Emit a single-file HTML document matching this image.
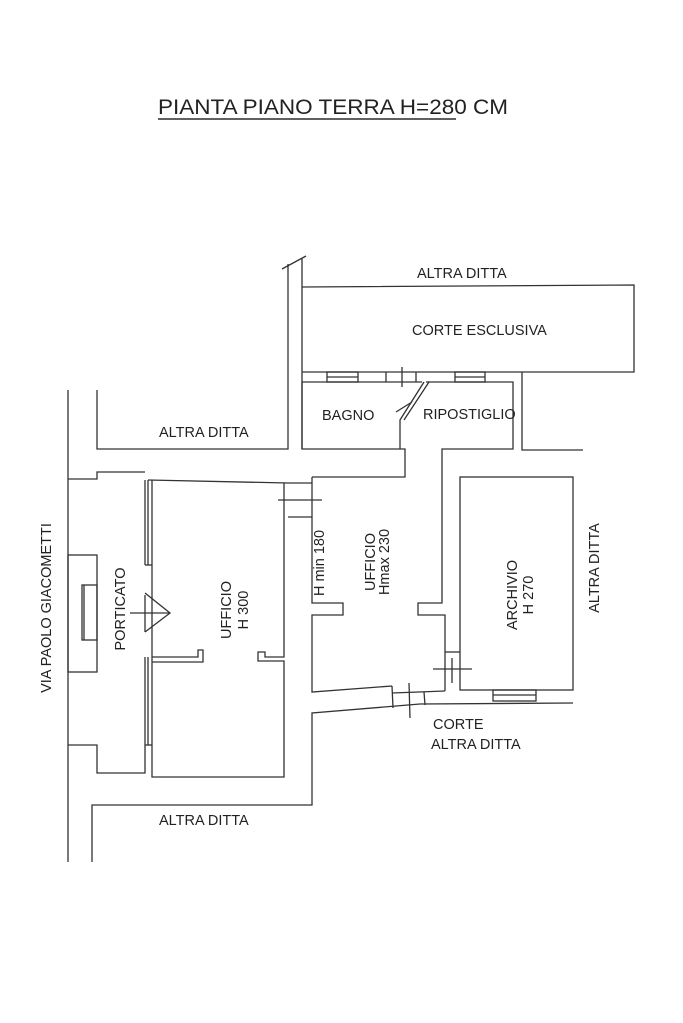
<!DOCTYPE html>
<html><head><meta charset="utf-8"><style>
html,body{margin:0;padding:0;background:#fff;}
svg{display:block;}
text{font-family:"Liberation Sans",sans-serif;fill:#222;}
</style></head><body>
<svg width="683" height="1023" viewBox="0 0 683 1023" xmlns="http://www.w3.org/2000/svg">
<g stroke="#333" stroke-width="1.3" fill="none">
<line x1="158" y1="119" x2="456" y2="119" stroke="#000"/>
<line x1="68" y1="390" x2="68" y2="862"/>
<polyline points="97,390 97,449 288,449 288,264"/>
<line x1="282" y1="269" x2="306" y2="256"/>
<line x1="302" y1="258" x2="302" y2="449"/>
<polyline points="302,287 634,285 634,372 302,372"/>
<rect x="327" y="372" width="31" height="10"/>
<line x1="327" y1="377" x2="358" y2="377"/>
<rect x="455" y="372" width="30" height="10"/>
<line x1="455" y1="377" x2="485" y2="377"/>
<line x1="386" y1="372" x2="386" y2="382"/>
<line x1="416" y1="372" x2="416" y2="382"/>
<line x1="402" y1="367" x2="402" y2="387"/>
<polyline points="422,382 302,382 302,449 405,449 405,477 312,477"/>
<polyline points="400,449 400,420 424,382"/>
<line x1="404" y1="420" x2="429" y2="382"/>
<line x1="396" y1="412" x2="412" y2="402"/>
<polyline points="426,382 513,382 513,449 442,449 442,603 418,603 418,615 445,615 445,686"/>
<polyline points="522,372 522,450 583,450"/>
<rect x="460" y="477" width="113" height="213"/>
<rect x="493" y="690" width="43" height="11"/>
<line x1="493" y1="695" x2="536" y2="695"/>
<line x1="445" y1="652" x2="460" y2="652"/>
<line x1="433" y1="669" x2="472" y2="669"/>
<line x1="452" y1="658" x2="452" y2="683"/>
<polyline points="312,477 312,603 343,603 343,615 312,615 312,692 392,686"/>
<line x1="288" y1="483" x2="312" y2="483"/>
<line x1="288" y1="517" x2="312" y2="517"/>
<line x1="278" y1="500" x2="322" y2="500"/>
<!-- door to corte -->
<line x1="392" y1="686" x2="393" y2="708"/>
<line x1="424" y1="692" x2="425" y2="705"/>
<line x1="392" y1="693" x2="445" y2="691"/>
<line x1="445" y1="686" x2="445" y2="691"/>
<line x1="409" y1="683" x2="410" y2="718"/>
<polyline points="573,703 420,704 312,713 312,805 92,805 92,862"/>
<polyline points="148,480 288,483"/>
<polyline points="152,480 152,777 284,777 284,661 258,661 258,652 265,652 265,657 284,657 284,483"/>
<polyline points="152,657 198,657 198,650 203,650 203,662 152,662"/>
<line x1="145" y1="480" x2="145" y2="565"/>
<line x1="148" y1="480" x2="148" y2="565"/>
<line x1="145" y1="657" x2="145" y2="745"/>
<line x1="148" y1="657" x2="148" y2="745"/>
<line x1="145" y1="565" x2="152" y2="565"/>
<line x1="145" y1="745" x2="152" y2="745"/>
<line x1="145" y1="595" x2="145" y2="632"/>
<polyline points="145,593 170,613 145,632"/>
<line x1="130" y1="613" x2="170" y2="613"/>
<polyline points="68,479 97,479 97,472 145,472"/>
<polyline points="68,745 97,745 97,773 145,773 145,745"/>
<rect x="68" y="555" width="29" height="117"/>
<rect x="82" y="585" width="15" height="55"/>
<line x1="84" y1="585" x2="84" y2="640"/>
</g>
<g font-size="14.5">
<text x="158" y="114" font-size="21.5" fill="#000" textLength="350" lengthAdjust="spacingAndGlyphs">PIANTA PIANO TERRA H=280 CM</text>
<text x="417" y="278">ALTRA DITTA</text>
<text x="412" y="335">CORTE ESCLUSIVA</text>
<text x="322" y="420">BAGNO</text>
<text x="423" y="419">RIPOSTIGLIO</text>
<text x="159" y="437">ALTRA DITTA</text>
<text x="159" y="825">ALTRA DITTA</text>
<text x="433" y="729">CORTE</text>
<text x="431" y="749">ALTRA DITTA</text>
<text transform="translate(51,608) rotate(-90)" text-anchor="middle">VIA PAOLO GIACOMETTI</text>
<text transform="translate(125,609) rotate(-90)" text-anchor="middle">PORTICATO</text>
<text transform="translate(231,610) rotate(-90)" text-anchor="middle">UFFICIO</text>
<text transform="translate(248,610) rotate(-90)" text-anchor="middle">H 300</text>
<text transform="translate(324,563) rotate(-90)" text-anchor="middle">H min 180</text>
<text transform="translate(375,562) rotate(-90)" text-anchor="middle">UFFICIO</text>
<text transform="translate(389,562) rotate(-90)" text-anchor="middle">Hmax 230</text>
<text transform="translate(517,595) rotate(-90)" text-anchor="middle">ARCHIVIO</text>
<text transform="translate(533,595) rotate(-90)" text-anchor="middle">H 270</text>
<text transform="translate(599,568) rotate(-90)" text-anchor="middle">ALTRA DITTA</text>
</g>
</svg>
</body></html>
